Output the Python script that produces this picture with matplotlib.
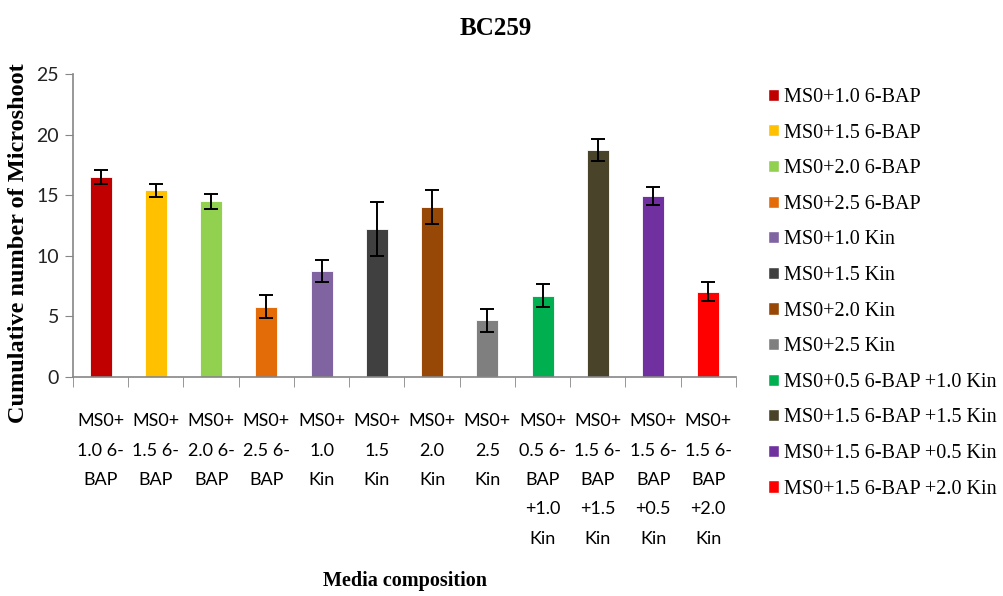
import matplotlib
matplotlib.use("Agg")
import matplotlib.pyplot as plt
from matplotlib.patches import Patch
import numpy as np

legend_labels = [
    "MS0+1.0 6-BAP", "MS0+1.5 6-BAP", "MS0+2.0 6-BAP", "MS0+2.5 6-BAP",
    "MS0+1.0 Kin", "MS0+1.5 Kin", "MS0+2.0 Kin", "MS0+2.5 Kin",
    "MS0+0.5 6-BAP +1.0 Kin", "MS0+1.5 6-BAP +1.5 Kin",
    "MS0+1.5 6-BAP +0.5 Kin", "MS0+1.5 6-BAP +2.0 Kin",
]
tick_labels = [
    "MS0+\n1.0 6-\nBAP", "MS0+\n1.5 6-\nBAP", "MS0+\n2.0 6-\nBAP", "MS0+\n2.5 6-\nBAP",
    "MS0+\n1.0\nKin", "MS0+\n1.5\nKin", "MS0+\n2.0\nKin", "MS0+\n2.5\nKin",
    "MS0+\n0.5 6-\nBAP\n+1.0\nKin", "MS0+\n1.5 6-\nBAP\n+1.5\nKin",
    "MS0+\n1.5 6-\nBAP\n+0.5\nKin", "MS0+\n1.5 6-\nBAP\n+2.0\nKin",
]
means = [16.5, 15.4, 14.5, 5.8, 8.75, 12.2, 14.0, 4.7, 6.7, 18.7, 14.95, 7.05]
errors = [0.55, 0.55, 0.6, 0.95, 0.9, 2.25, 1.4, 0.95, 0.95, 0.9, 0.75, 0.8]
colors = ["#C00000", "#FFC000", "#92D050", "#E36C09", "#8064A2", "#404040",
          "#974706", "#7F7F7F", "#00B050", "#494429", "#7030A0", "#FF0000"]

tick_font = "Lato"

fig = plt.figure(figsize=(10.04, 5.96), dpi=100)
ax = fig.add_axes([0.0727, 0.3674, 0.6603, 0.5084])

x = np.arange(len(means))
ax.bar(x, means, width=0.4, color=colors, edgecolor="white", linewidth=0.6,
       yerr=errors, error_kw=dict(ecolor="black", elinewidth=1.4, capsize=5, capthick=1.4))

ax.set_xlim(-0.5, len(means) - 0.5)
ax.set_ylim(0, 25)
ax.set_yticks([0, 5, 10, 15, 20, 25])

ax.set_xticks(x)
ax.set_xticklabels(tick_labels, fontfamily=tick_font, fontsize=13, linespacing=2.03)
ax.set_xticks(np.arange(len(means) + 1) - 0.5, minor=True)
ax.tick_params(axis="x", which="major", length=0, pad=26)
ax.tick_params(axis="x", which="minor", length=7, color="#868686", direction="out")
ax.tick_params(axis="y", length=6, color="#868686", labelsize=14, labelcolor="#222222", pad=4)
for t in ax.get_yticklabels():
    t.set_fontfamily(tick_font)

for side in ["top", "right"]:
    ax.spines[side].set_visible(False)
for side in ["left", "bottom"]:
    ax.spines[side].set_color("#868686")
    ax.spines[side].set_linewidth(1.2)

fig.text(0.018, 0.592, "Cumulative number of Microshoot", rotation=90,
         ha="center", va="center", fontfamily="Liberation Serif",
         fontweight="bold", fontsize=17.5)
fig.text(0.403, 0.0084, "Media composition", ha="center", va="bottom",
         fontfamily="Liberation Serif", fontweight="bold", fontsize=14.5)
fig.suptitle("BC259", x=0.494, y=0.971, fontfamily="Liberation Serif",
             fontweight="bold", fontsize=18)

handles = [Patch(facecolor=c, edgecolor="white") for c in colors]
fig.legend(handles, legend_labels, loc="upper left", bbox_to_anchor=(0.757, 0.866),
           frameon=False, prop={"family": "Liberation Serif", "size": 14.5},
           handlelength=0.55, handleheight=0.55, handletextpad=0.25, labelspacing=0.825,
           borderaxespad=0)

fig.savefig("out.png", dpi=100)
